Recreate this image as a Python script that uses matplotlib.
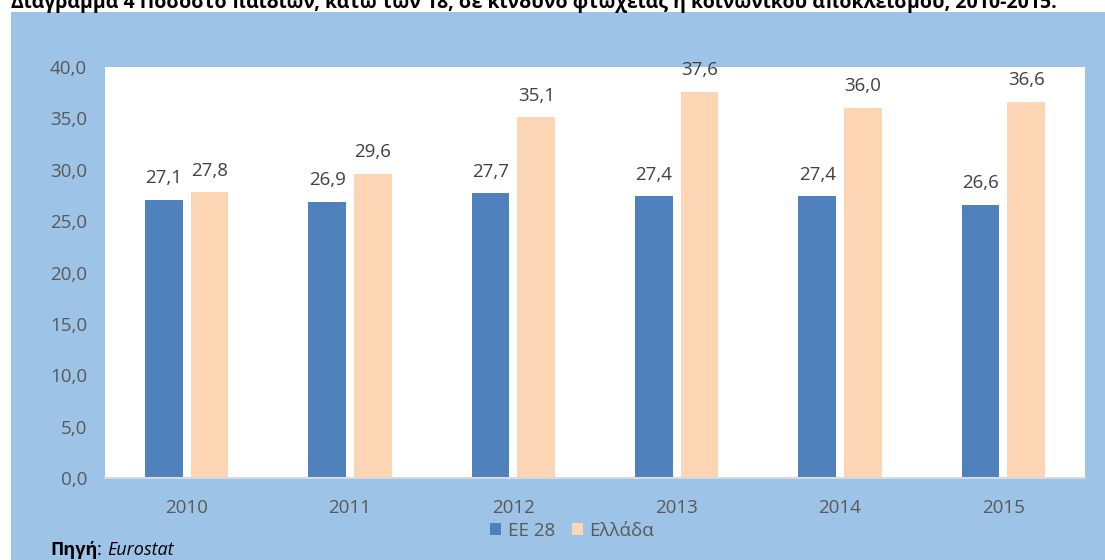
import numpy as np
import matplotlib
matplotlib.use("Agg")
import matplotlib.pyplot as plt
from matplotlib.patches import Rectangle

plt.rcParams['font.family'] = ['Open Sans', 'DejaVu Sans']

# data
years = ['2010', '2011', '2012', '2013', '2014', '2015']
eu28 = [27.1, 26.9, 27.7, 27.4, 27.4, 26.6]
greece = [27.8, 29.6, 35.1, 37.6, 36.0, 36.6]
series_names = ['ΕΕ 28', 'Ελλάδα']
yticks = [0, 5, 10, 15, 20, 25, 30, 35, 40]

blue = '#4F81BD'
peach = '#FCD5B5'
bg = '#9DC3E6'
grey = '#595959'
fs = 13.5

W, H = 1105, 560
fig = plt.figure(figsize=(W / 100, H / 100), dpi=100)
fig.patch.set_facecolor('white')

# blue chart area behind the plot
fig.patches.append(Rectangle((11 / W, 0), 1, (H - 12) / H, transform=fig.transFigure,
                             facecolor=bg, edgecolor='none', zorder=-10))

ax = fig.add_axes([105 / W, (H - 478) / H, 980 / W, (478 - 67) / H])
ax.set_facecolor('white')

x = np.arange(len(years))
w = 0.23
b1 = ax.bar(x - 0.14, eu28, w, color=blue, label=series_names[0], zorder=2)
b2 = ax.bar(x + 0.14, greece, w, color=peach, label=series_names[1], zorder=2)

for bars, vals in [(b1, eu28), (b2, greece)]:
    for r, v in zip(bars, vals):
        ax.annotate(f"{v:.1f}".replace('.', ','), (r.get_x() + r.get_width() / 2, v),
                    xytext=(0, 12), textcoords='offset points', ha='center', va='baseline',
                    fontsize=fs, color='#404040')

ax.set_xlim(-0.5, len(years) - 0.5)
ax.set_ylim(0, 40)
ax.set_xticks(x)
ax.set_xticklabels(years, fontsize=fs, color=grey)
ax.set_yticks(yticks)
ax.set_yticklabels([f"{t:.1f}".replace('.', ',') for t in yticks], fontsize=fs, color=grey)
ax.tick_params(axis='both', length=0)
ax.tick_params(axis='x', pad=15)
ax.tick_params(axis='y', pad=13)
for s in ['top', 'right', 'left']:
    ax.spines[s].set_visible(False)
ax.spines['bottom'].set_color('#D9D9D9')
ax.spines['bottom'].set_linewidth(1.5)

leg = fig.legend(loc='center', bbox_to_anchor=(572 / W, 1 - 531 / H), ncol=2, frameon=False,
                 fontsize=fs, handlelength=0.6, handleheight=0.6, columnspacing=0.9,
                 handletextpad=0.35)
for t in leg.get_texts():
    t.set_color(grey)

# title is clipped at the top edge, as in the source image
fig.text(11 / W, 1 - 8 / H,
         'Διάγραμμα 4 Ποσοστό παιδιών, κάτω των 18, σε κίνδυνο φτώχειας ή κοινωνικού αποκλεισμού, 2010-2015.',
         fontsize=14, fontweight='bold', va='baseline', ha='left', color='black')

t1 = fig.text(50 / W, 1 - 555 / H, 'Πηγή', fontsize=13, fontweight='bold', va='baseline')
fig.canvas.draw()
bb = t1.get_window_extent()
fig.text(bb.x1 / W, 1 - 555 / H, ': ', fontsize=13, va='baseline')
fig.text(bb.x1 / W + 0.009, 1 - 555 / H, 'Eurostat', fontsize=13, style='italic', va='baseline')

fig.savefig('out.png', dpi=100)
